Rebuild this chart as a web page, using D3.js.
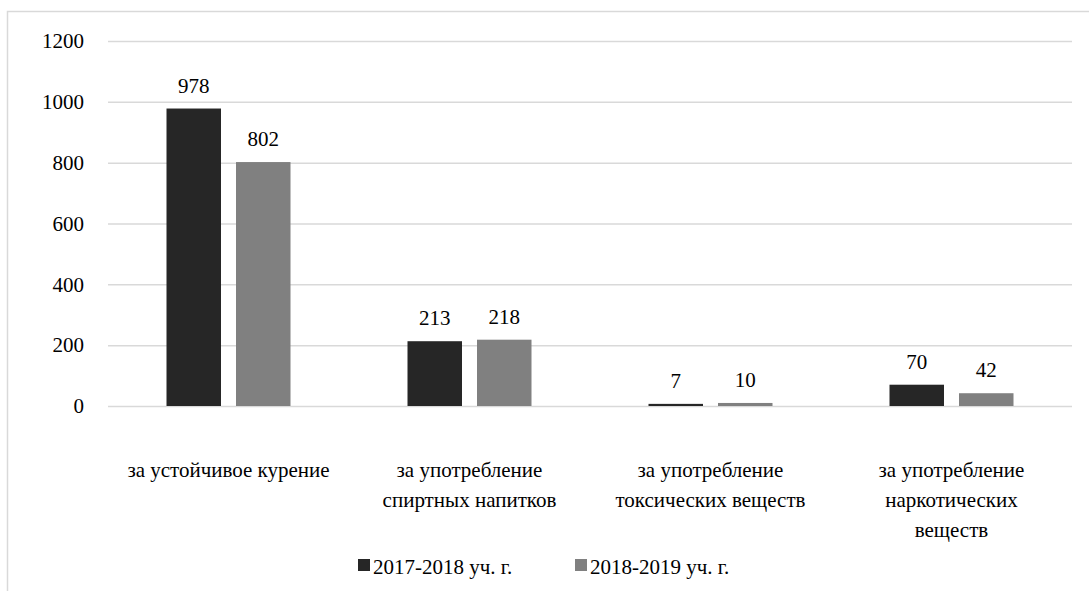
<!DOCTYPE html>
<html><head><meta charset="utf-8">
<script src="https://cdn.jsdelivr.net/npm/d3@7"></script>
<style>body{margin:0;background:#fff}svg{display:block}</style>
</head><body>
<svg id="c" width="1089" height="591"></svg>
<script>
const categories = [["за устойчивое курение"],["за употребление","спиртных напитков"],["за употребление","токсических веществ"],["за употребление","наркотических","веществ"]];
const seriesNames = ["2017-2018 уч. г.","2018-2019 уч. г."];
const values2017 = [978,213,7,70];
const values2018 = [802,218,10,42];
const yTicks = [0,200,400,600,800,1000,1200];
const colors = ["#262626","#808080"];
const FF = "Liberation Serif, DejaVu Serif, serif";
const FS = 21;

const svg = d3.select("#c");
svg.append("rect").attr("x",7.5).attr("y",11.5).attr("width",1100).attr("height",600).attr("fill","none").attr("stroke","#d9d9d9").attr("stroke-width",1.5);

const m = {l:108,r:1072,t:41,b:406};
const y = d3.scaleLinear().domain([0,1200]).range([m.b,m.t]);
const x0 = d3.scaleBand().domain(d3.range(categories.length)).range([m.l,m.r]);
const x1 = d3.scaleBand().domain([0,1]).range([x0.bandwidth()/2-62,x0.bandwidth()/2+62]).paddingInner(15/69.5);

const ax = svg.append("g").attr("transform",`translate(${m.l},0)`)
  .call(d3.axisLeft(y).tickValues(yTicks).tickFormat(d3.format("d")).tickSize(-(m.r-m.l)).tickPadding(24));
ax.attr("font-family",FF);
ax.select(".domain").remove();
ax.selectAll(".tick line").attr("stroke","#d9d9d9").attr("stroke-width",1.5);
ax.selectAll(".tick text").attr("font-size",FS).attr("font-family",FF).attr("fill","#000");

const data = [values2017, values2018];
data.forEach((vals,s)=>{
  const g = svg.append("g");
  g.selectAll("rect").data(vals).join("rect")
    .attr("x",(d,i)=>x0(i)+x1(s)).attr("width",x1.bandwidth())
    .attr("y",d=>y(d)).attr("height",d=>m.b-y(d)).attr("fill",colors[s]);
  g.selectAll("text").data(vals).join("text")
    .attr("x",(d,i)=>x0(i)+x1(s)+x1.bandwidth()/2).attr("y",d=>y(d)-16)
    .attr("text-anchor","middle").attr("font-size",FS).attr("font-family",FF).text(d=>d);
});

categories.forEach((lines,i)=>{
  const t = svg.append("text").attr("text-anchor","middle").attr("font-size",FS).attr("font-family",FF)
    .attr("x",x0(i)+x0.bandwidth()/2).attr("y",477);
  lines.forEach((l,k)=>t.append("tspan").attr("x",x0(i)+x0.bandwidth()/2).attr("dy",k?30:0).text(l));
});

const lg = [[358,seriesNames[0]],[575,seriesNames[1]]];
lg.forEach(([lx,name],s)=>{
  svg.append("rect").attr("x",lx).attr("y",559).attr("width",12).attr("height",12).attr("fill",colors[s]);
  svg.append("text").attr("x",lx+15).attr("y",574).attr("font-size",FS).attr("font-family",FF).text(name);
});
</script>
</body></html>
